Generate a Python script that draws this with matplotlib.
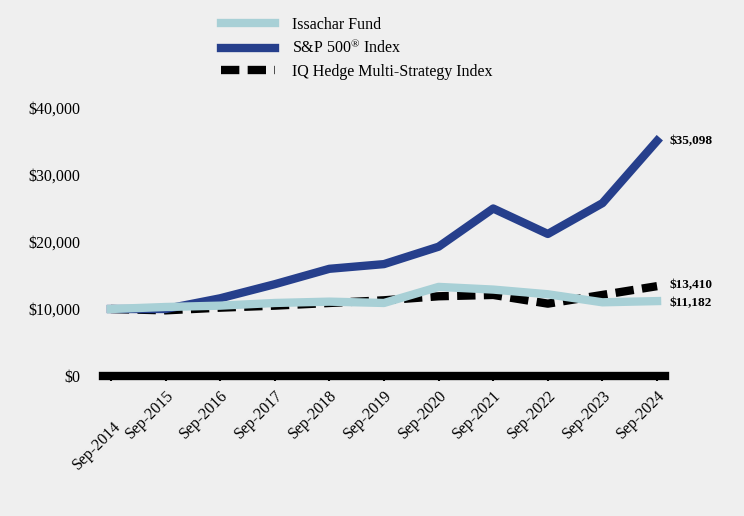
import matplotlib.pyplot as plt
import matplotlib.transforms as mtransforms
import numpy as np

years = ["Sep-2014", "Sep-2015", "Sep-2016", "Sep-2017", "Sep-2018", "Sep-2019",
         "Sep-2020", "Sep-2021", "Sep-2022", "Sep-2023", "Sep-2024"]
issachar = [10000, 10300, 10500, 10900, 11100, 10900, 13300, 12900, 12200, 11000, 11182]
sp500 = [10000, 10000, 11600, 13700, 16000, 16700, 19300, 25000, 21200, 25800, 35098]
hedge = [10000, 9800, 10200, 10500, 10900, 11300, 11900, 12100, 10800, 12100, 13410]
end_labels = ["$11,182", "$35,098", "$13,410"]

plt.rcParams['font.family'] = ['Liberation Serif', 'DejaVu Serif']
plt.rcParams['mathtext.fontset'] = 'custom'
plt.rcParams['mathtext.rm'] = 'Liberation Serif'
plt.rcParams['mathtext.it'] = 'Liberation Serif'
bg = "#efefef"
colors = {'issachar': "#a8d0d6", 'sp': "#263f8c", 'hedge': "black"}

fig = plt.figure(figsize=(7.44, 5.16), dpi=100, facecolor=bg)
ax = fig.add_axes([0.1384, 0.2713, 0.7554, 0.5194])
ax.set_facecolor(bg)

x = np.arange(len(years))
ax.plot(x, hedge, color=colors['hedge'], lw=6, dashes=(2.2, 1.0), label="IQ Hedge Multi-Strategy Index", zorder=2)
ax.plot(x, sp500, color=colors['sp'], lw=6, label="S&P 500$^{\\mathrm{®}}$ Index", zorder=3)
ax.plot(x, issachar, color=colors['issachar'], lw=6, label="Issachar Fund", zorder=4)

ax.set_xlim(-0.145, 10.145)
ax.set_ylim(0, 40000)
ax.set_yticks([0, 10000, 20000, 30000, 40000])
ax.set_yticklabels(["$0", "$10,000", "$20,000", "$30,000", "$40,000"], fontsize=11.5)
ax.set_xticks(x)
ax.set_xticklabels(years, rotation=45, ha='right', rotation_mode='anchor', fontsize=11.5)
ax.tick_params(axis='y', length=0, pad=16)
ax.tick_params(axis='x', length=3.5, width=1.5, color='black', pad=5)

# first label sits lower than the rest in the original
first = ax.get_xticklabels()[0]
first.set_transform(first.get_transform() + mtransforms.ScaledTranslation(0.02, -0.31, fig.dpi_scale_trans))

for s in ['top', 'right', 'left']:
    ax.spines[s].set_visible(False)
ax.spines['bottom'].set_linewidth(6)
ax.spines['bottom'].set_color('black')

ax.text(10.22, sp500[-1], end_labels[1], fontsize=9.5, fontweight='bold', va='center')
ax.text(10.22, hedge[-1] + 100, end_labels[2], fontsize=9.5, fontweight='bold', va='center')
ax.text(10.22, issachar[-1] - 300, end_labels[0], fontsize=9.5, fontweight='bold', va='center')

h, l = ax.get_legend_handles_labels()
order = [2, 1, 0]
fig.legend([h[i] for i in order], [l[i] for i in order], loc='upper left',
           bbox_to_anchor=(0.278, 0.995), frameon=False, fontsize=11.5,
           handlelength=3.35, handletextpad=1.1, labelspacing=0.4)

plt.savefig("out.png", dpi=100, facecolor=bg)
